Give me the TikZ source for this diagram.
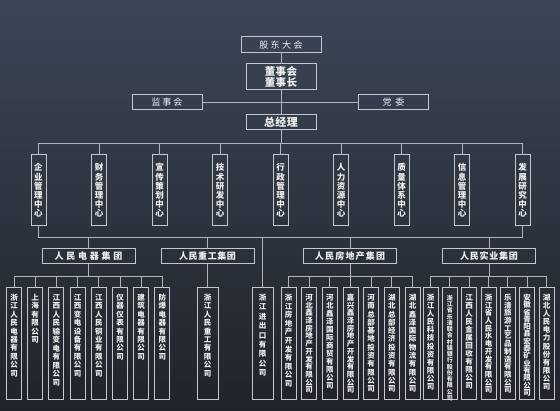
\documentclass[tikz,border=0pt]{standalone}
\usepackage{fontspec}
\setmainfont{Noto Sans CJK SC}
\usepackage{tikz}
\usetikzlibrary{positioning}
\definecolor{bgtop}{RGB}{60,70,87}
\definecolor{bgbot}{RGB}{32,35,41}
\definecolor{edge}{RGB}{196,199,204}
\definecolor{wirec}{RGB}{178,182,188}
\definecolor{ink}{RGB}{240,240,240}
\ExplSyntaxOn
% characters stacked one above the other
\NewDocumentCommand{\vtext}{O{8.4pt}m}
 {
  \tl_set:Nx \l_tmpa_tl {#2}
  \vtop{\baselineskip=#1 \lineskiplimit=-\maxdimen \lineskip=0pt
   \tl_map_inline:Nn \l_tmpa_tl {\hbox_to_wd:nn{1em}{\hss##1\hss}}}
 }
% characters on one line, spread apart
\NewDocumentCommand{\track}{O{1.5pt}m}
 {
  \tl_set:Nx \l_tmpb_tl {#2}
  \tl_map_inline:Nn \l_tmpb_tl {##1\kern#1}\kern-#1
 }
\ExplSyntaxOff
\tikzset{
  box/.style={draw=edge,line width=1pt,text=ink,inner sep=0pt,outer sep=0pt},
  seat/.style={box,minimum width=70pt,minimum height=15pt,font=\fontsize{9pt}{9pt}\selectfont},
  chair/.style={box,minimum width=70pt,align=center,font=\bfseries\fontsize{10.5pt}{11pt}\selectfont},
  dept/.style={box,minimum width=15pt,minimum height=71pt,font=\bfseries\fontsize{8.5pt}{9pt}\selectfont},
  grp/.style={box,minimum width=93pt,minimum height=15pt,font=\bfseries\fontsize{9pt}{9pt}\selectfont},
  firm/.style={box,anchor=north,minimum width=15pt,text height=12.5pt,text depth=99.5pt,font=\bfseries\fontsize{7.5pt}{8pt}\selectfont},
  link/.style={draw=wirec,line width=0.9pt}
}
\begin{document}
\begin{tikzpicture}[x=1pt,y=-1pt]
\shade[top color=bgtop,bottom color=bgbot] (0,0) rectangle (560,411);
\useasboundingbox (0,0) rectangle (560,411);
% shareholders, board, supervisors, party, manager
\node[seat,minimum width=80pt,minimum height=16pt] (sh) at (281,45) {\track[2.5pt]{股东大会}};
\node[chair,minimum height=26pt] (bd) at (281,77) {\track[0.5pt]{董事会}\\\track[0.5pt]{董事长}};
\node[seat] (sv) at (167,102.5) {\track[2pt]{监事会}};
\node[seat] (pc) at (393.5,102.5) {\track[4pt]{党委}};
\node[chair,minimum height=15pt,font=\bfseries\fontsize{11pt}{11pt}\selectfont] (gm) at (281,122.5) {\track[0.5pt]{总经理}};
\draw[link] (sh) -- (bd);
\draw[link] (bd) -- (gm);
\draw[link] (sv) -- (pc);
% centres
\foreach \n/\x/\t in {f1/38.5/企业管理中心,f2/99/财务管理中心,f3/159.5/宣传策划中心,f4/220/技术研发中心,f5/280.5/行政管理中心,f6/341/人力资源中心,f7/401.5/质量体系中心,f8/462/信息管理中心,f9/522.5/发展研究中心}
  \node[dept] (\n) at (\x,190.5) {\vtext[9.2pt]{\t}};
\coordinate (tb) at ([yshift=-13pt]gm.south);
\draw[link] (gm) -- (tb);
\foreach \i in {1,...,9} \draw[link] (f\i.north) |- (tb);
\coordinate (bl) at ([yshift=-11pt]f1.south);
\coordinate (br) at ([yshift=-11pt]f9.south);
\draw[link] (f1) -- (bl) -- (br) -- (f9);
% groups
\foreach \n/\x/\k/\t in {g1/88.5/2.8/人民电器集团,g2/207.5/0.6/人民重工集团,g3/350/1.2/人民房地产集团,g4/489/0.8/人民实业集团}
  \node[grp] (\n) at (\x,256.5) {\track[\k pt]{\t}};
\foreach \n in {g1,g2,g3,g4} \draw[link] (\n) -- (\n |- bl);
% companies
\foreach \n/\x/\p/\t in {e1/14/8.4/浙江人民电器有限公司,e2/35.2/8.4/上海有限公司,e3/56.4/8.5/江西人民输变电有限公司,e4/77.6/8.4/江西变电设备有限公司,e5/98.8/8.4/江西人民铜业有限公司,e6/120/8.4/仪器仪表有限公司,e7/141.2/8.4/建筑电器有限公司,e8/162.4/8.4/防爆电器有限公司}
  \node[firm] (\n) at (\x,288) {\vtext[\p pt]{\t}};
\node[firm,minimum width=21pt] (w1) at (207.5,288) {\vtext{浙江人民重工有限公司}};
\node[firm,minimum width=21pt] (x1) at (262.5,288) {\vtext[9.4pt]{浙江进出口有限公司}};
\foreach \n/\x/\p/\t in {h1/288.5/8.6/浙江房地产开发有限公司,h2/309.2/7.7/河北鑫泽房地产开发有限公司,h3/329.8/8/河北鑫泽国际商贸有限公司,h4/350.5/7.7/嘉兴鑫泽房地产开发有限公司,h5/371.2/8.3/河南总部基地投资有限公司,h6/391.8/8.3/湖北总部经济投资有限公司,h7/412.5/8.3/湖北鑫泽国际物流有限公司}
  \node[firm] (\n) at (\x,288) {\vtext[\p pt]{\t}};
\foreach \n/\x/\p/\t in {s1/430.5/8.1/浙江人民科技投资有限公司,s3/469.2/8/江西人民金属回收有限公司,s4/488.5/7.7/浙江省人民水电开发有限公司,s5/507.8/7.7/乐清旅游工艺品制造有限公司,s6/527.2/7.3/安徽省青阳县宏泰矿业有限公司,s7/546.5/8.1/湖北人民电力股份有限公司}
  \node[firm] (\n) at (\x,288) {\vtext[\p pt]{\t}};
\node[firm,font=\bfseries\fontsize{6pt}{6pt}\selectfont] (s2) at (449.8,288) {\vtext[6.25pt]{浙江省乐清联合村镇银行股份有限公司}};
\coordinate (g1b) at ([yshift=-12pt]g1.south);
\coordinate (g3b) at ([yshift=-12pt]g3.south);
\coordinate (g4b) at ([yshift=-12pt]g4.south);
\draw[link] (g1) -- (g1b);
\draw[link] (g3) -- (g3b);
\draw[link] (g4) -- (g4b);
\foreach \i in {1,...,8} \draw[link] (e\i.north) |- (g1b);
\foreach \i in {1,...,7} \draw[link] (h\i.north) |- (g3b);
\foreach \i in {1,...,7} \draw[link] (s\i.north) |- (g4b);
\draw[link] (g2) -- (w1);
\draw[link] (x1) -- (x1 |- bl);
\end{tikzpicture}
\end{document}
